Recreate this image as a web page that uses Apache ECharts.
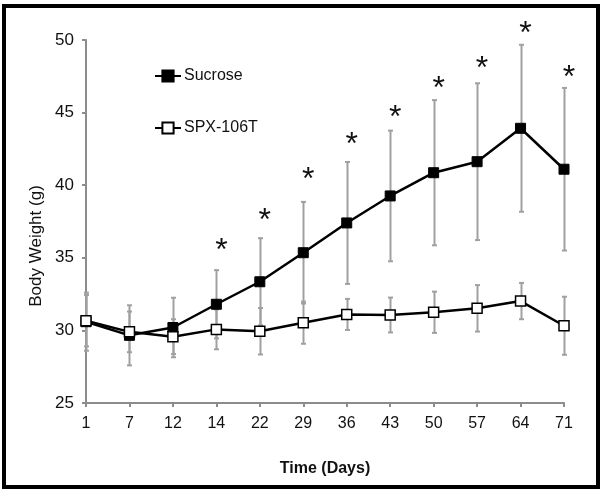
<!DOCTYPE html>
<html><head><meta charset="utf-8">
<script src="https://cdn.jsdelivr.net/npm/echarts@6/dist/echarts.min.js"></script>
<style>html,body{margin:0;padding:0;background:#fff}#c{width:600px;height:490px}</style>
</head><body><div id="c"></div>
<script>
const days = ['1','7','12','14','22','29','36','43','50','57','64','71'];
const sucrose = [30.6,29.66,30.2,31.8,33.35,35.35,37.4,39.26,40.86,41.62,43.92,41.1];
const sucroseErr = [2.0,2.07,2.05,2.35,3.0,3.5,4.2,4.5,5.0,5.4,5.75,5.6];
const spx = [30.67,29.9,29.57,30.07,29.94,30.53,31.1,31.06,31.25,31.52,32.02,30.32];
const spxErr = [1.77,1.4,1.2,1.37,1.6,1.45,1.07,1.2,1.42,1.6,1.25,2.0];
const starLevel = [null,null,null,36.0,38.1,40.93,43.3,45.18,47.18,48.55,50.92,47.93];
const yTicks = [25,30,35,40,45,50];

const FONT = "'Liberation Sans', Arial, sans-serif";

function errSeries(name, vals, errs, z) {
  return {
    type: 'custom', name: name + ' err', z: z, silent: true, clip: false,
    data: vals.map((v, i) => [i, v - errs[i], v + errs[i]]),
    renderItem: function (params, api) {
      const lo = api.coord([api.value(0), api.value(1)]);
      const hi = api.coord([api.value(0), api.value(2)]);
      const x = Math.round(lo[0]) + 0.5, w = 2.5;
      const st = { stroke: '#a0a0a0', lineWidth: 2 };
      return { type: 'group', children: [
        { type: 'line', shape: { x1: x, y1: lo[1], x2: x, y2: hi[1] }, style: st },
        { type: 'line', shape: { x1: x - w, y1: lo[1], x2: x + w, y2: lo[1] }, style: st },
        { type: 'line', shape: { x1: x - w, y1: hi[1], x2: x + w, y2: hi[1] }, style: st }
      ]};
    }
  };
}

const chart = echarts.init(document.getElementById('c'), null, { renderer: 'canvas' });
chart.setOption({
  animation: false,
  backgroundColor: '#fff',
  textStyle: { fontFamily: FONT },
  grid: { left: 86, right: 36, top: 40, bottom: 87 },
  legend: {
    orient: 'vertical', left: 154, top: 68, itemGap: 36, padding: 0,
    itemWidth: 26, itemHeight: 14,
    textStyle: { fontSize: 16, color: '#111', fontFamily: FONT, padding: [0, 0, 0, -2] },
    data: ['Sucrose', 'SPX-106T']
  },
  xAxis: {
    type: 'category', data: days, boundaryGap: false,
    name: 'Time (Days)', nameLocation: 'middle', nameGap: 58,
    nameTextStyle: { fontSize: 16, fontWeight: 'bold', color: '#111', fontFamily: FONT },
    axisLine: { lineStyle: { color: '#8c8c8c', width: 2 } },
    axisTick: { show: true, length: 4, lineStyle: { color: '#8c8c8c', width: 2 } },
    axisLabel: { fontSize: 16, color: '#111', margin: 13, fontFamily: FONT },
    splitLine: { show: false }
  },
  yAxis: {
    type: 'value', min: 25, max: 50, interval: 5,
    axisLine: { show: true, lineStyle: { color: '#8c8c8c', width: 2 } },
    axisTick: { show: true, length: 4, lineStyle: { color: '#8c8c8c', width: 2 } },
    axisLabel: { fontSize: 17, color: '#111', margin: 12, fontFamily: FONT,
      formatter: v => yTicks.indexOf(v) >= 0 ? String(v) : '' },
    splitLine: { show: false }
  },
  series: [
    errSeries('Sucrose', sucrose, sucroseErr, 1),
    errSeries('SPX-106T', spx, spxErr, 1),
    {
      name: 'Sucrose', type: 'line', data: sucrose, z: 3,
      symbol: 'rect', symbolSize: 10, showAllSymbol: true,
      lineStyle: { color: '#000', width: 2.5 },
      itemStyle: { color: '#000', borderColor: '#000', borderWidth: 1 }
    },
    {
      name: 'SPX-106T', type: 'line', data: spx, z: 4,
      symbol: 'rect', symbolSize: 10, showAllSymbol: true,
      lineStyle: { color: '#000', width: 2.5 },
      itemStyle: { color: '#fff', borderColor: '#000', borderWidth: 1.5 }
    },
    {
      type: 'custom', name: 'stars', z: 5, silent: true, clip: false,
      data: starLevel.map((v, i) => v == null ? null : [i, v]).filter(d => d),
      renderItem: function (params, api) {
        const p = api.coord([api.value(0), api.value(1)]);
        return { type: 'text', x: p[0] + 5, y: p[1] + 8,
          style: { text: '*', fontSize: 32, fontFamily: FONT, fill: '#111',
            align: 'center', verticalAlign: 'middle' } };
      }
    }
  ],
  graphic: [
    {
      type: 'text', silent: true, x: 36, y: 246, rotation: Math.PI / 2,
      style: { text: 'Body Weight (g)', fontSize: 17, fontFamily: FONT, fill: '#111',
        align: 'center', verticalAlign: 'middle' }
    },
    {
      type: 'rect', silent: true, z: 100,
      shape: { x: 4, y: 6, width: 594, height: 481 },
      style: { fill: 'none', stroke: '#000', lineWidth: 4 }
    }
  ]
});
</script></body></html>
